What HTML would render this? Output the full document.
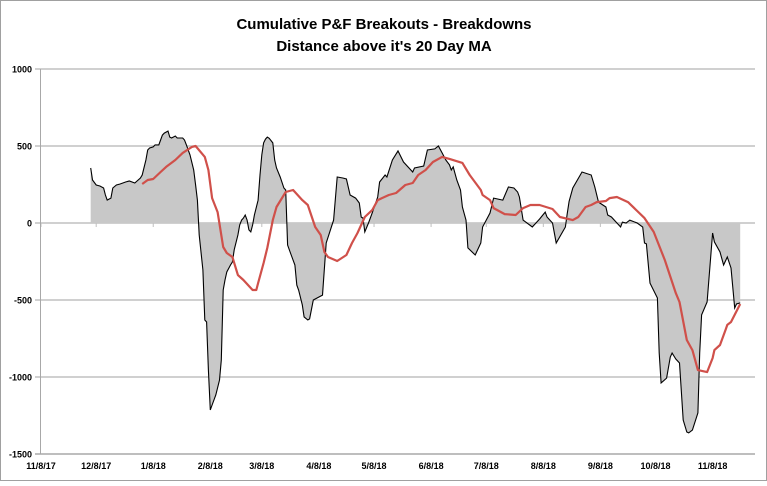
<!DOCTYPE html>
<html><head><meta charset="utf-8"><style>
body{margin:0;background:#fff;}
svg text{font-family:"Liberation Sans",sans-serif;}
</style></head><body>
<svg id="chart" width="767" height="481" xmlns="http://www.w3.org/2000/svg">
<rect x="0.5" y="0.5" width="766" height="480" fill="#fff" stroke="#a0a0a0"/>
<text x="384" y="29" text-anchor="middle" font-size="15" font-weight="bold" fill="#000">Cumulative P&amp;F Breakouts - Breakdowns</text>
<text x="384" y="51" text-anchor="middle" font-size="15" font-weight="bold" fill="#000">Distance above it's 20 Day MA</text>
<g id="grid"></g><g id="series"></g><g id="axes"></g>
</svg>
<script>
const yTicks=[1000,500,0,-500,-1000,-1500];
const xTickLabels=["11/8/17","12/8/17","1/8/18","2/8/18","3/8/18","4/8/18","5/8/18","6/8/18","7/8/18","8/8/18","9/8/18","10/8/18","11/8/18"];
const xTickDays=[0,30,61,92,120,151,181,212,242,273,304,334,365];
const netDays=[27,28,30,32,34,35,36,38,39,41,43,46,48,51,54,55,57,58,59,61,62,64,65,66,67,69,70,71,73,74,77,78,79,81,83,84,85,86,88,89,90,91,92,93,95,97,98,99,100,101,103,104,105,107,108,109,110,111,112,113,114,115,116,118,119,120,121,122,123,124,126,127,128,130,132,133,134,136,138,139,140,142,143,145,146,148,153,155,159,161,164,166,168,171,173,174,175,176,178,180,183,184,187,188,191,194,197,202,203,208,210,214,216,218,220,222,223,224,226,228,229,231,232,236,239,240,244,246,251,254,257,259,260,262,267,271,274,275,278,280,285,286,287,289,294,299,301,303,307,308,310,315,316,318,320,324,327,328,329,331,335,336,337,340,342,343,345,347,349,351,352,354,357,358,359,362,365,366,369,371,373,375,377,378,380];
const netValues=[357,279,247,240,227,182,149,162,227,247,253,266,273,260,292,312,409,474,487,494,507,507,539,571,584,597,558,552,565,552,552,539,507,442,344,247,149,-78,-305,-630,-643,-955,-1214,-1182,-1117,-1020,-890,-435,-370,-318,-273,-253,-175,-78,-13,19,32,52,19,-45,-58,-13,52,149,312,442,520,545,558,550,520,409,357,299,227,214,-143,-208,-273,-403,-435,-532,-610,-630,-623,-500,-468,-130,19,299,292,286,182,162,130,39,32,-58,0,65,169,266,312,299,409,468,396,331,357,370,474,481,500,455,409,377,344,364,279,214,104,19,-162,-208,-130,-26,65,162,149,234,227,201,169,19,-26,26,71,39,0,-130,-26,60,140,227,331,312,234,136,104,52,39,-26,6,0,19,0,-26,-130,-136,-390,-487,-844,-1039,-1007,-870,-844,-883,-909,-1279,-1357,-1363,-1344,-1233,-844,-597,-513,-65,-123,-188,-273,-221,-292,-552,-526,-519];
const maDays=[55,58,61,65,68,73,77,82,84,89,91,93,96,99,101,104,107,110,115,117,118,121,123,126,128,133,137,142,145,149,152,154,156,161,166,169,172,176,180,183,189,193,198,202,205,209,213,218,222,229,233,239,240,244,246,252,258,262,266,271,278,282,289,292,296,299,302,307,309,313,319,324,328,333,339,345,347,351,354,357,362,365,366,369,372,373,375,380];
const maValues=[253,279,286,331,364,409,455,494,500,429,344,162,71,-156,-195,-221,-338,-370,-435,-435,-390,-260,-162,19,104,201,214,149,117,-26,-78,-188,-221,-247,-208,-130,-65,39,84,149,182,195,247,260,312,344,396,429,416,390,312,214,182,149,97,58,52,97,117,117,91,39,19,39,104,117,136,143,162,169,136,78,32,-58,-240,-455,-513,-760,-825,-955,-968,-877,-825,-792,-695,-662,-643,-526];
const NS="http://www.w3.org/2000/svg";
const X0=41,PXD=1.84,Y0=223,PXV=77/500;
const xs=d=>X0+d*PXD, ys=v=>Y0-v*PXV;
function mk(tag,attrs,parent){const e=document.createElementNS(NS,tag);for(const k in attrs)e.setAttribute(k,attrs[k]);parent.appendChild(e);return e;}
const grid=document.getElementById('grid'),series=document.getElementById('series'),axes=document.getElementById('axes');
yTicks.forEach(v=>{
  const l=mk('line',{x1:35,x2:755,y1:ys(v),y2:ys(v),stroke:v===-1500?'#a8a8a8':'#c0c0c0','stroke-width':1.5},grid);
  
  
  const t=mk('text',{x:32,y:ys(v)+3.5,'text-anchor':'end','font-size':9,'font-weight':'bold',fill:'#000'},axes);
  t.textContent=v;
  
  
});
const ax=mk('line',{x1:40.5,x2:40.5,y1:ys(1000),y2:ys(-1500),stroke:'#a8a8a8','stroke-width':1},axes);


xTickLabels.forEach((s,i)=>{
  const t=mk('text',{x:xs(xTickDays[i]),y:469,'text-anchor':'middle','font-size':9,'font-weight':'bold',fill:'#000'},axes);
  t.textContent=s;
  
  
  const tk=mk('line',{x1:xs(xTickDays[i]),x2:xs(xTickDays[i]),y1:Y0,y2:Y0+4,stroke:'#c0c0c0'},grid);
  
  
});
const nN=Math.min(netDays.length,netValues.length);
const pts=[];
for(let i=0;i<nN;i++)pts.push(xs(netDays[i]).toFixed(1)+','+ys(netValues[i]).toFixed(1));
const area=mk('polygon',{points:xs(netDays[0]).toFixed(1)+','+Y0+' '+pts.join(' ')+' '+xs(netDays[nN-1]).toFixed(1)+','+Y0,fill:'#c8c8c8'},series);


const nl=mk('polyline',{points:pts.join(' '),fill:'none',stroke:'#000','stroke-width':1.1},series);


const mN=Math.min(maDays.length,maValues.length);
const mpts=[];
for(let i=0;i<mN;i++)mpts.push(xs(maDays[i]).toFixed(1)+','+ys(maValues[i]).toFixed(1));
const ml=mk('polyline',{points:mpts.join(' '),fill:'none',stroke:'#d0504a','stroke-width':2.2,'stroke-linejoin':'round'},series);


</script>
</body></html>
